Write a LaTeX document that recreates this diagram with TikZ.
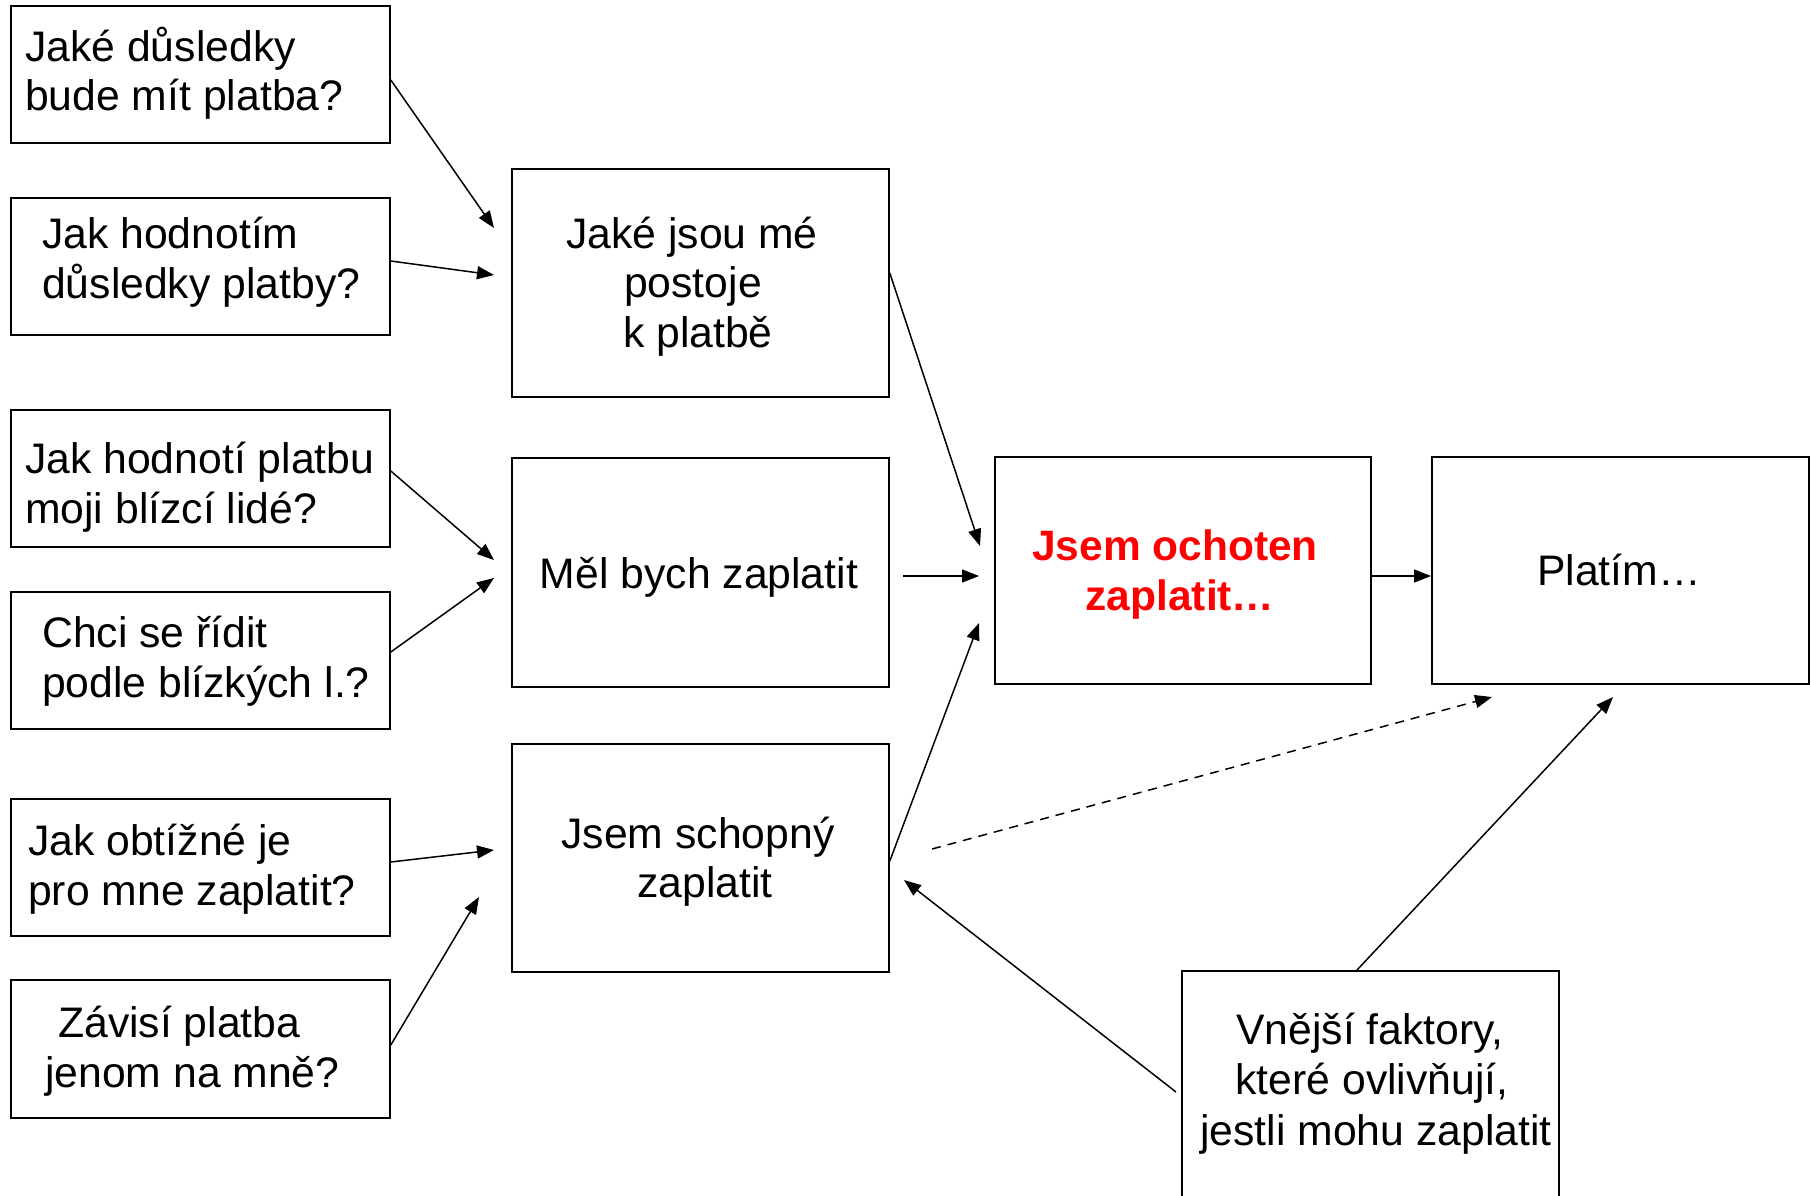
\documentclass[tikz,border=0pt]{standalone}
\usepackage{fontspec}
\setmainfont{Liberation Sans}
\usetikzlibrary{arrows.meta}
\definecolor{pptred}{RGB}{255,0,0}
\tikzset{
  box/.style={draw=black, line width=1.8pt, rectangle, inner sep=0pt, anchor=north west},
  txt/.style={inner sep=0pt, anchor=base west, font=\fontsize{42.7}{50}\selectfont},
  ctxt/.style={inner sep=0pt, anchor=base, font=\fontsize{42.7}{50}\selectfont},
  rtxt/.style={inner sep=0pt, anchor=base, text=pptred, font=\fontsize{42.5}{50}\selectfont\bfseries},
  conn/.style={line width=1.5pt, -{Triangle[length=17pt,width=13pt]}},
  dconn/.style={conn, dash pattern=on 9pt off 7pt}
}
\begin{document}
\begin{tikzpicture}[x=1pt,y=-1pt]
\path[use as bounding box, fill=white] (0,0) rectangle (1810,1195);

% left column boxes
\node[box, minimum width=379pt, minimum height=137pt] (a1) at (10,5) {};
\node[box, minimum width=379pt, minimum height=137pt] (a2) at (10,197) {};
\node[box, minimum width=379pt, minimum height=137pt] (a3) at (10,409) {};
\node[box, minimum width=379pt, minimum height=137pt] (a4) at (10,591) {};
\node[box, minimum width=379pt, minimum height=137pt] (a5) at (10,798) {};
\node[box, minimum width=379pt, minimum height=138pt] (a6) at (10,979) {};

% middle column boxes
\node[box, minimum width=377pt, minimum height=228pt] (b1) at (511,168) {};
\node[box, minimum width=377pt, minimum height=229pt] (b2) at (511,457) {};
\node[box, minimum width=377pt, minimum height=228pt] (b3) at (511,743) {};

% right boxes
\node[box, minimum width=376pt, minimum height=227pt] (c) at (994,456) {};
\node[box, minimum width=377pt, minimum height=227pt] (d) at (1431,456) {};
\node[box, minimum width=377pt, minimum height=260pt] (e) at (1181,970) {};

% texts left
\node[txt] (t1a) at (25,61) {Jaké důsledky};
\node[txt] (t1b) at (25,110) {bude mít platba?};
\node[txt] (t2a) at (42,248) {Jak hodnotím};
\node[txt] (t2b) at (42,298) {důsledky platby?};
\node[txt] (t3a) at (25,473) {Jak hodnotí platbu};
\node[txt] (t3b) at (25,523) {moji blízcí lidé?};
\node[txt] (t4a) at (42,647) {Chci se řídit};
\node[txt] (t4b) at (42,697) {podle blízkých l.?};
\node[txt] (t5a) at (28,855) {Jak obtížné je};
\node[txt] (t5b) at (28,905) {pro mne zaplatit?};
\node[txt] (t6a) at (58,1037) {Závisí platba};
\node[txt] (t6b) at (45,1087) {jenom na mně?};

% texts middle
\node[ctxt] (tb1a) at (692,248) {Jaké jsou mé};
\node[ctxt] (tb1b) at (693,297) {postoje};
\node[ctxt] (tb1c) at (698,347) {k platbě};
\node[ctxt] (tb2) at (699,588) {Měl bych zaplatit};
\node[ctxt] (tb3a) at (698,848) {Jsem schopný};
\node[ctxt] (tb3b) at (705,897) {zaplatit};

% texts right
\node[rtxt] (tca) at (1175,560) {Jsem ochoten};
\node[rtxt] (tcb) at (1180,610) {zaplatit…};
\node[ctxt] (td) at (1619,585) {Platím…};
\node[ctxt] (tea) at (1370,1044) {Vnější faktory,};
\node[ctxt] (teb) at (1372,1094) {které ovlivňují,};
\node[ctxt] (tec) at (1376,1145) {jestli mohu zaplatit};

% arrow end points
\coordinate (e1) at (494,228);
\coordinate (e2) at (494,275);
\coordinate (e3) at (980,546);
\coordinate (e4) at (494,560);
\coordinate (e5) at (494,578);
\coordinate (s6) at (903,576);
\coordinate (e6) at (979,576);
\coordinate (e7) at (979,623);
\coordinate (e9) at (494,850);
\coordinate (e10) at (479,897);
\coordinate (s11) at (932,849);
\coordinate (e11) at (1492,697);
\coordinate (s12) at (1176,1092);
\coordinate (e12) at (904,880);
\coordinate (e13) at (1613,697);

% connectors
\draw[conn] (a1.east |- 0,80) -- (e1);
\draw[conn] (a2.east |- 0,261) -- (e2);
\draw[conn] (b1.east |- 0,273) -- (e3);
\draw[conn] (a3.east |- 0,471) -- (e4);
\draw[conn] (a4.east |- 0,652) -- (e5);
\draw[conn] (s6) -- (e6);
\draw[conn] (b3.east |- 0,861) -- (e7);
\draw[conn] (c.east |- 0,576) -- (d.west |- 0,576);
\draw[conn] (a5.east |- 0,862) -- (e9);
\draw[conn] (a6.east |- 0,1045) -- (e10);
\draw[dconn] (s11) -- (e11);
\draw[conn] (s12) -- (e12);
\draw[conn] (e.north -| 1357,0) -- (e13);
\end{tikzpicture}
\end{document}
